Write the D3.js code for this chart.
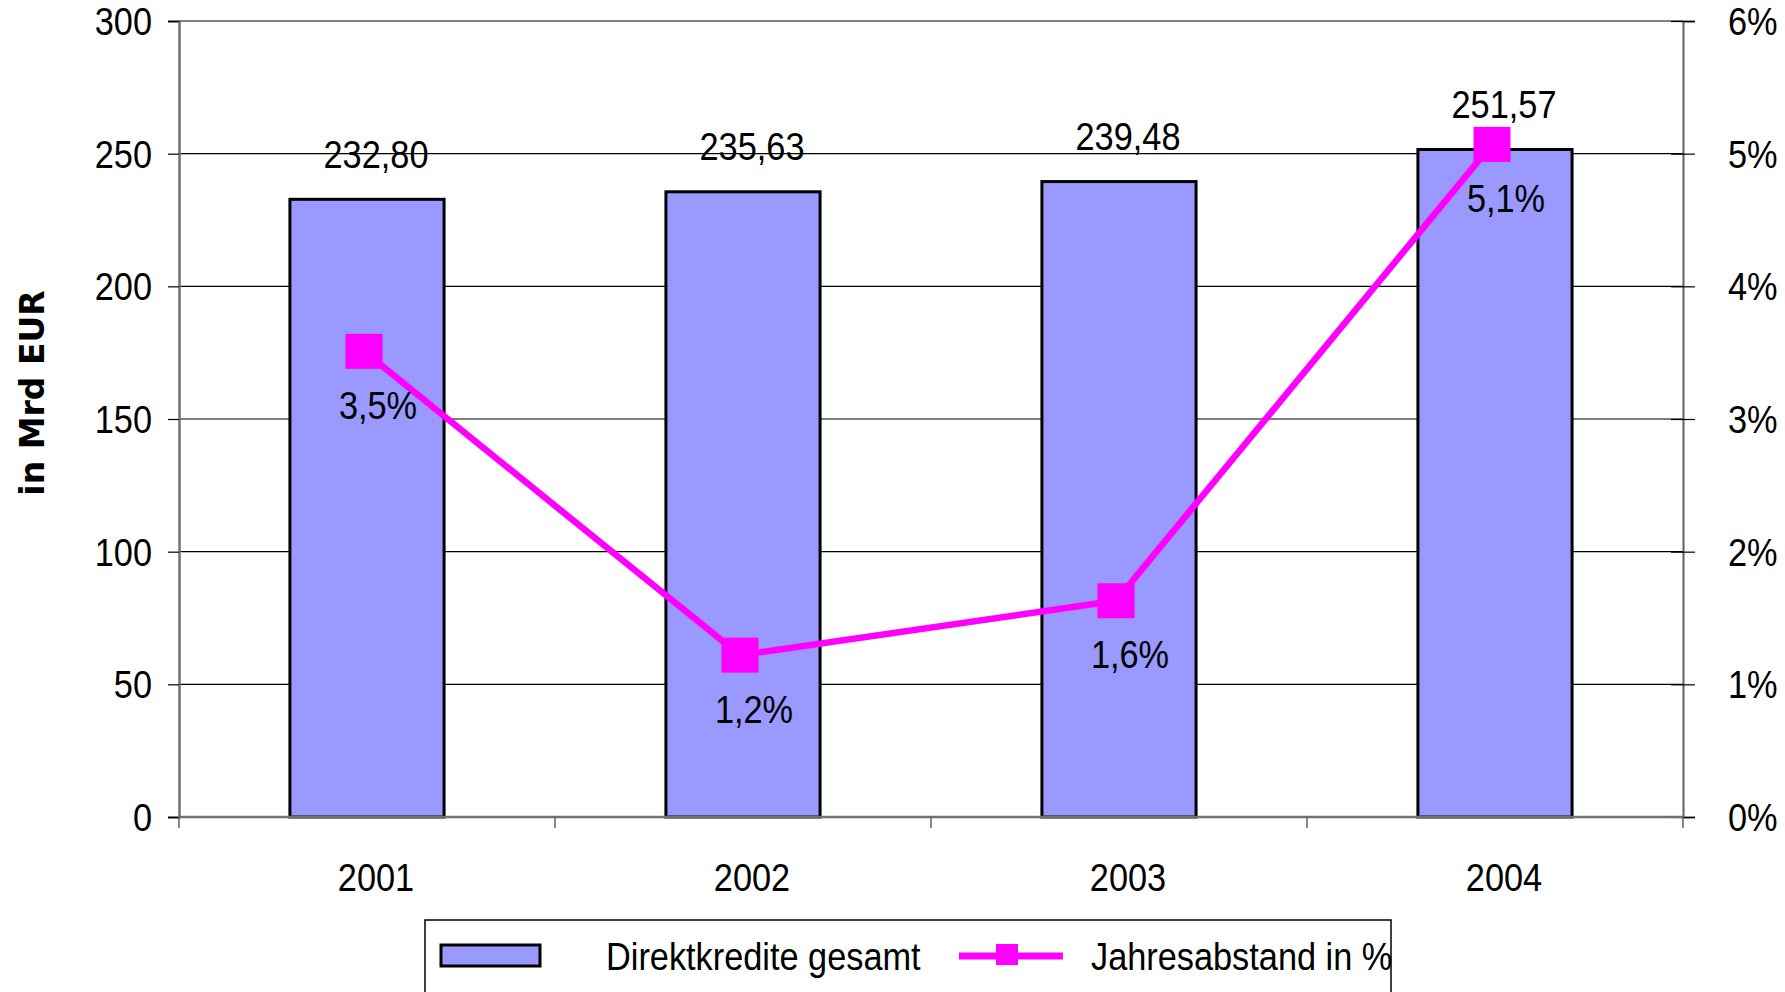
<!DOCTYPE html>
<html>
<head>
<meta charset="utf-8">
<script src="https://cdn.jsdelivr.net/npm/d3@7"></script>
<style>
  body { margin: 0; background: #fff; }
  svg text { font-family: "Liberation Sans", Arial, sans-serif; fill: #000; }
</style>
</head>
<body>
<svg id="chart" width="1785" height="992"></svg>
<script>
// Werte
const years = ["2001", "2002", "2003", "2004"];
const credits = [232.80, 235.63, 239.48, 251.57];   // Mrd EUR
const changePct = [3.51, 1.22, 1.63, 5.07];         // Jahresabstand in %
const leftTicks = [0, 50, 100, 150, 200, 250, 300];
const rightTicks = [0, 1, 2, 3, 4, 5, 6];
const seriesNames = ["Direktkredite gesamt", "Jahresabstand in %"];
const yTitle = "in Mrd EUR";

const de = d3.formatLocale({ decimal: ",", thousands: ".", grouping: [3], currency: ["", " €"] });
const fmt2 = de.format(".2f");
const fmt1 = de.format(".1f");

const svg = d3.select("#chart");
const plotL = 179, plotR = 1683, plotT = 21, plotB = 817;
const fontSize = 39;
const narrow = 0.88; // schmale Schrift nachbilden

// text helper: anchor point at (x,y), horizontally squeezed
function label(g, px, py, txt, anchor) {
  return g.append("text")
    .attr("transform", `translate(${px},${py}) scale(${narrow},1)`)
    .attr("text-anchor", anchor || "middle")
    .attr("dy", "0.35em")
    .style("font-size", fontSize + "px")
    .text(txt);
}
function squeezeAxisText(g) {
  g.selectAll(".tick text").each(function () {
    const t = d3.select(this);
    const x0 = +t.attr("x");
    t.attr("x", 0)
      .attr("transform", `translate(${x0},0) scale(${narrow},1)`)
      .attr("dy", "0.35em")
      .attr("fill", "#000")
      .style("font-size", fontSize + "px")
      .style("font-family", "'Liberation Sans', Arial, sans-serif");
  });
}

const x = d3.scaleBand().domain(years).range([plotL, plotR]).paddingInner(0.59).paddingOuter(0.295);
const y = d3.scaleLinear().domain([0, 300]).range([plotB, plotT]);
const y2 = d3.scaleLinear().domain([0, 6]).range([plotB, plotT]);

const data = years.map((yr, i) => ({ year: yr, value: credits[i], pct: changePct[i] }));

// gridlines
svg.append("g").selectAll("line")
  .data(leftTicks.filter(t => t > 0 && t < 300))
  .enter().append("line")
  .attr("x1", plotL).attr("x2", plotR)
  .attr("y1", d => y(d)).attr("y2", d => y(d))
  .attr("stroke", "#000").attr("stroke-width", 1.2);

// top border
svg.append("line")
  .attr("x1", plotL).attr("x2", plotR).attr("y1", y(300)).attr("y2", y(300))
  .attr("stroke", "#808080").attr("stroke-width", 2);

// left axis
const gl = svg.append("g").attr("transform", `translate(${plotL},0)`)
  .call(d3.axisLeft(y).tickValues(leftTicks).tickSize(11).tickPadding(16).tickFormat(d => d));
gl.select(".domain").attr("stroke", "#707070").attr("stroke-width", 2.5);
gl.selectAll(".tick line").attr("stroke", "#000").attr("stroke-width", 1.2);
squeezeAxisText(gl);

// right axis
const gr = svg.append("g").attr("transform", `translate(${plotR},0)`)
  .call(d3.axisRight(y2).tickValues(rightTicks).tickSize(12).tickPadding(33).tickFormat(d => d + "%"));
gr.select(".domain").attr("stroke", "#606060").attr("stroke-width", 2);
gr.selectAll(".tick line").attr("x1", -12).attr("stroke", "#000").attr("stroke-width", 1.2);
squeezeAxisText(gr);

// bars
svg.append("g").selectAll("rect")
  .data(data)
  .enter().append("rect")
  .attr("x", d => x(d.year))
  .attr("y", d => y(d.value))
  .attr("width", x.bandwidth())
  .attr("height", d => y(0) - y(d.value))
  .attr("fill", "#9999FF")
  .attr("stroke", "#000")
  .attr("stroke-width", 3);

// bottom axis
const step = x.step();
const boundaries = years.map(yr => x(yr) - step * 0.295).concat([plotR]);
svg.append("line")
  .attr("x1", plotL).attr("x2", plotR).attr("y1", plotB).attr("y2", plotB)
  .attr("stroke", "#707070").attr("stroke-width", 2.5);
svg.append("g").selectAll("line")
  .data(boundaries)
  .enter().append("line")
  .attr("x1", d => d).attr("x2", d => d)
  .attr("y1", plotB).attr("y2", plotB + 11)
  .attr("stroke", "#606060").attr("stroke-width", 1.5);
const gx = svg.append("g");
years.forEach(yr => label(gx, x(yr) + x.bandwidth() / 2 + 9, 877, yr));

// bar value labels
const gv = svg.append("g");
data.forEach(d => label(gv, x(d.year) + x.bandwidth() / 2 + 9, y(d.value) - 45, fmt2(d.value)));

// line
const cx = d => x(d.year) + x.bandwidth() / 2 - 3;
const line = d3.line().x(cx).y(d => y2(d.pct));
svg.append("path")
  .datum(data)
  .attr("d", line)
  .attr("fill", "none")
  .attr("stroke", "#FF00FF")
  .attr("stroke-width", 6.5);
svg.append("g").selectAll("rect")
  .data(data)
  .enter().append("rect")
  .attr("x", d => cx(d) - 18.5)
  .attr("y", d => y2(d.pct) - 17.5)
  .attr("width", 37)
  .attr("height", 35)
  .attr("fill", "#FF00FF");
const gp = svg.append("g");
data.forEach(d => label(gp, cx(d) + 14, y2(d.pct) + 54, fmt1(d.pct) + "%"));

// y title
svg.append("text")
  .attr("transform", "translate(44,393) rotate(-90)")
  .attr("text-anchor", "middle")
  .style("font-family", "'DejaVu Sans', sans-serif")
  .style("font-weight", "bold")
  .style("font-size", "33px")
  .text(yTitle);

// legend
const lg = svg.append("g");
lg.append("rect")
  .attr("x", 425).attr("y", 920).attr("width", 966).attr("height", 90)
  .attr("fill", "#fff").attr("stroke", "#000").attr("stroke-width", 1.5);
lg.append("rect")
  .attr("x", 441).attr("y", 945).attr("width", 99).attr("height", 21)
  .attr("fill", "#9999FF").attr("stroke", "#000").attr("stroke-width", 3);
label(lg, 606, 956, seriesNames[0], "start");
lg.append("line")
  .attr("x1", 959).attr("x2", 1063).attr("y1", 956).attr("y2", 956)
  .attr("stroke", "#FF00FF").attr("stroke-width", 7);
lg.append("rect")
  .attr("x", 996).attr("y", 944).attr("width", 22).attr("height", 21)
  .attr("fill", "#FF00FF");
label(lg, 1091, 956, seriesNames[1], "start");
</script>
</body>
</html>
